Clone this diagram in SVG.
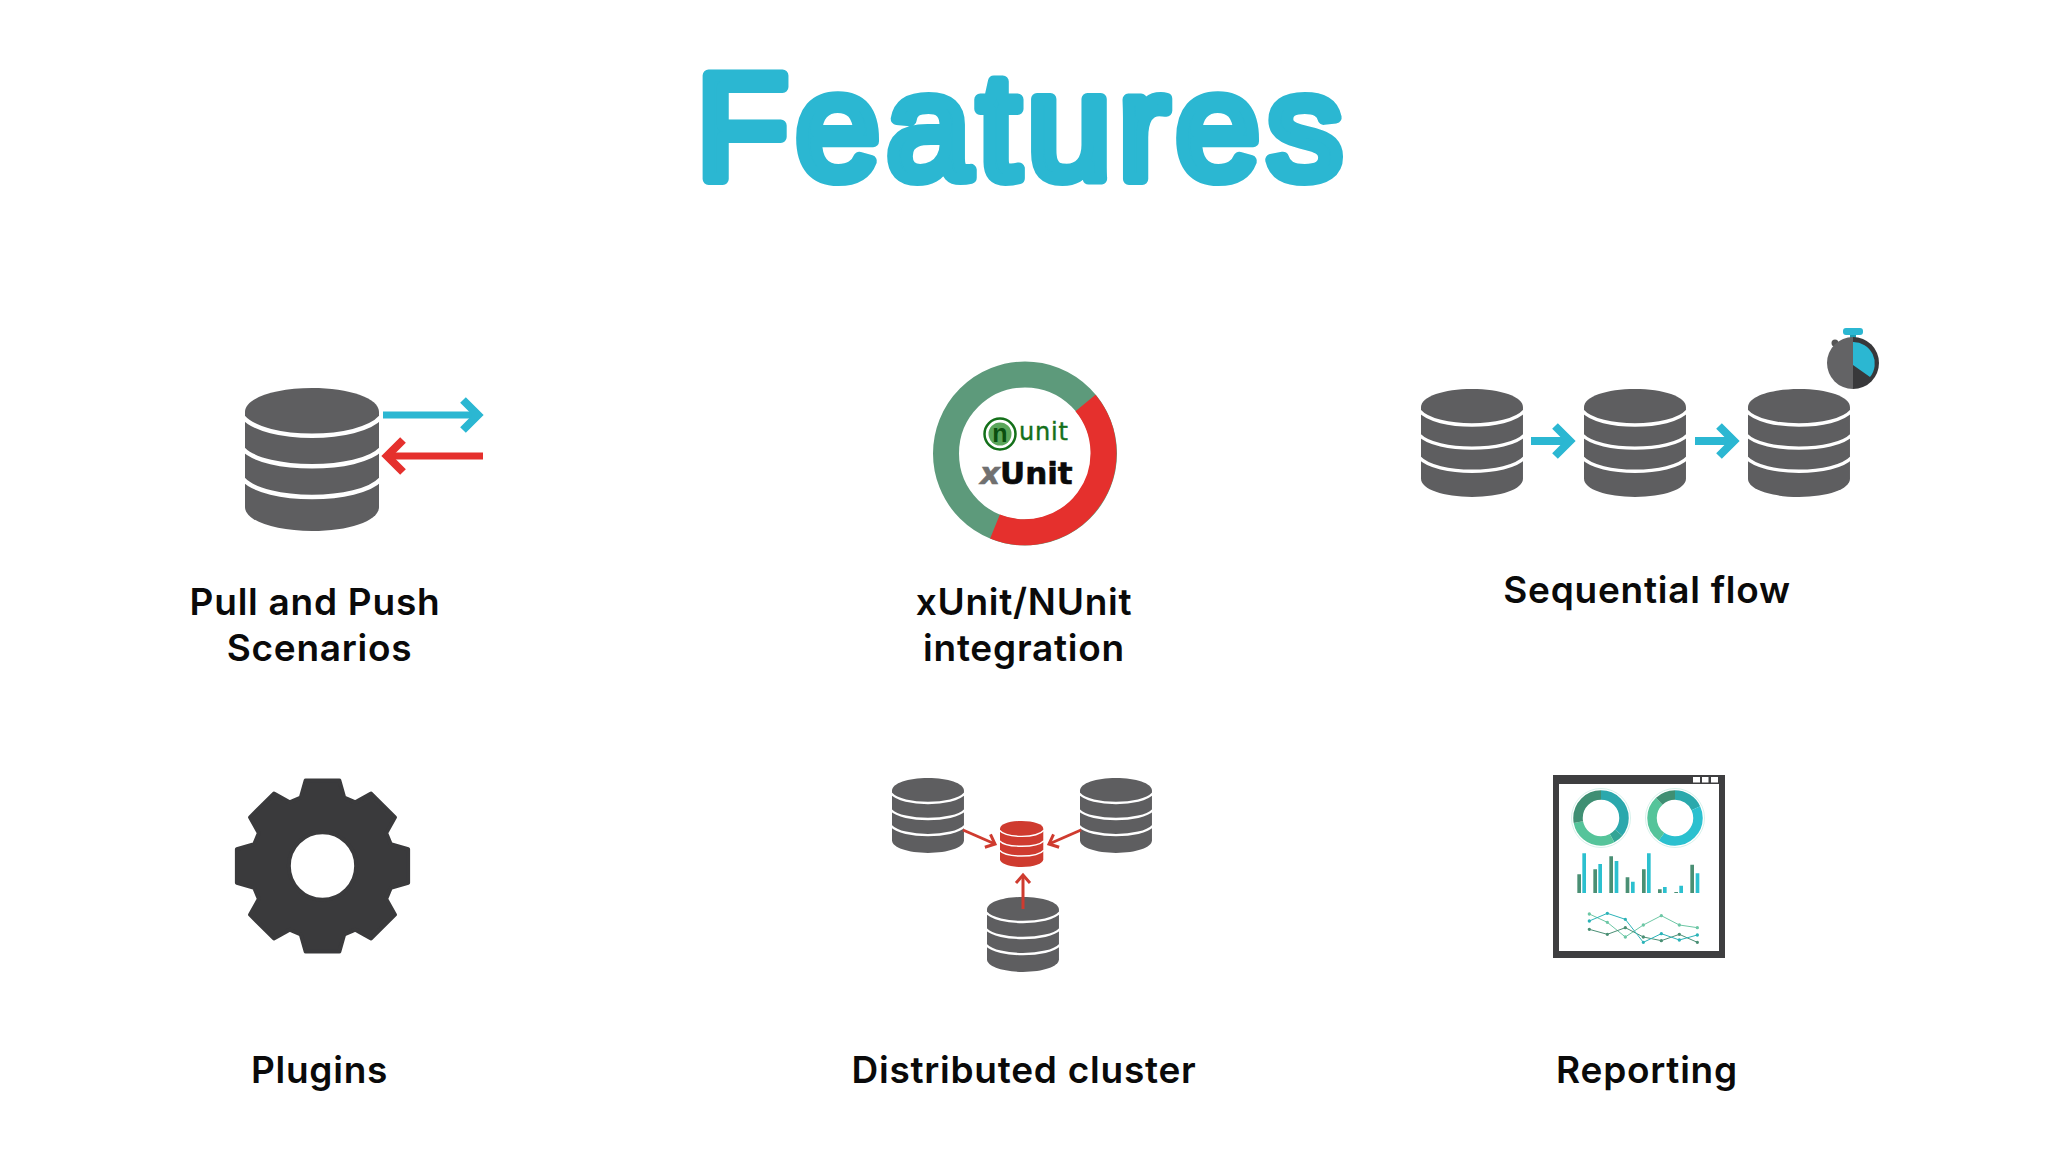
<svg xmlns="http://www.w3.org/2000/svg" width="2048" height="1152" viewBox="0 0 2048 1152">
<style>
.title{font:151px "Liberation Sans",Arial,sans-serif;fill:#2bb7d2;stroke:#2bb7d2;stroke-width:12;stroke-linejoin:round;stroke-linecap:round;letter-spacing:7.2px;text-anchor:middle}
.label{font:600 37px Inter,"Liberation Sans",Arial,sans-serif;fill:#0a0a0a;text-anchor:middle;letter-spacing:.75px}
.db{fill:#5e5e60}
.dbr{fill:#cf3b2f}
.dbline{fill:none;stroke:#fff;stroke-width:4.5}
.blue{fill:none;stroke:#2bb7d2}
.red{fill:none;stroke:#e5302d}
.cred{fill:none;stroke:#cf3b2f;stroke-width:3}
.dk{fill:#4a8f74}.tl{fill:#2cc0cf}
.ln{fill:none;stroke-width:3}
</style>
<defs>
<g id="cyl">
<path d="M0 24C0 10 30 0 67 0S134 10 134 24V119C134 133 104 143 67 143S0 133 0 119Z"/>
<path class="dbline" d="M-2 29C20 54 114 54 136 29M-2 61C20 84 114 84 136 61M-2 91C20 115 114 115 136 91"/>
</g>
<marker id="hb" markerUnits="userSpaceOnUse" markerWidth="40" markerHeight="40" refX="20" refY="20" orient="auto" overflow="visible"><path d="M5 5L20 20L5 35" fill="none" stroke="#2bb7d2" stroke-width="8"/></marker>
<marker id="hr" markerUnits="userSpaceOnUse" markerWidth="40" markerHeight="40" refX="20" refY="20" orient="auto" overflow="visible"><path d="M4 4L20 20L4 36" fill="none" stroke="#e5302d" stroke-width="8"/></marker>
<marker id="hc" markerUnits="userSpaceOnUse" markerWidth="20" markerHeight="20" refX="10" refY="10" orient="auto" overflow="visible"><path d="M2 3L10 10L2 17" fill="none" stroke="#cf3b2f" stroke-width="3"/></marker>
</defs>
<rect width="2048" height="1152" fill="#fff"/>
<text class="title" x="1023" y="179">Features</text>

<g id="pull-push">
<use href="#cyl" class="db" transform="translate(245 388)"/>
<text class="label" x="315" y="615">Pull and Push</text>
<text class="label" x="319.5" y="661">Scenarios</text>
</g>

<g id="xunit-nunit">
<circle cx="1025" cy="453.5" r="79" fill="none" stroke="#5d9a7b" stroke-width="26"/>
<path d="M1085.5 403A79 79 0 0 1 995 526.500" fill="none" stroke="#e5302d" stroke-width="26"/>
<circle cx="1000" cy="434" r="15.500" fill="#fff" stroke="#14701a" stroke-width="2.500"/>
<circle cx="1000" cy="434" r="11.500" fill="#5aa65a"/>
<text x="1000" y="442" font-family="'Liberation Sans',sans-serif" font-weight="bold" font-size="25" fill="#0a4f0f" text-anchor="middle">n</text>
<text x="1019" y="440" font-family="'DejaVu Sans',sans-serif" font-size="24" fill="#14701a" stroke="#14701a" stroke-width=".4" letter-spacing=".8">unit</text>
<text x="980" y="484" font-family="'DejaVu Sans',sans-serif" font-weight="bold" font-size="31" fill="#0a0a0a" stroke="#0a0a0a" stroke-width=".6"><tspan fill="#707070" stroke="#707070" font-style="italic">x</tspan>Unit</text>
<text class="label" x="1024" y="615">xUnit/NUnit</text>
<text class="label" x="1024" y="661">integration</text>
</g>

<g id="sequential-flow">
<use href="#cyl" class="db" transform="translate(1421 389) scale(.761 .755)"/>
<use href="#cyl" class="db" transform="translate(1584 389) scale(.761 .755)"/>
<use href="#cyl" class="db" transform="translate(1748 389) scale(.761 .755)"/>
<g id="stopwatch">
<rect x="1843" y="328" width="20" height="7" rx="3" fill="#2bb7d2"/>
<rect x="1850" y="335" width="6" height="4" fill="#1f9cb0"/>
<circle cx="1835" cy="343" r="3.500" fill="#555"/>
<path d="M1853 337A26 26 0 0 0 1853 389Z" fill="#636365"/>
<path d="M1853 337A26 26 0 0 1 1853 389Z" fill="#38383a"/>
<path d="M1853 342A21.500 21.500 0 0 1 1870 377L1853 365Z" fill="#2bb7d2"/>
</g>
<text class="label" x="1647" y="603">Sequential flow</text>
</g>

<g id="plugins">
<path fill="#3a3a3c" stroke="#3a3a3c" stroke-width="4" stroke-linejoin="round" fill-rule="evenodd" transform="translate(322.500 866) scale(.99)" d="M-22-69L-17-86.500H17L22-69L33.200-64.300L49.100-73.200L73.200-49.100L64.300-33.200L69-22L86.500-17V17L69 22L64.300 33.200L73.200 49.100L49.100 73.200L33.200 64.300L22 69L17 86.500H-17L-22 69L-33.200 64.300L-49.100 73.200L-73.200 49.100L-64.300 33.200L-69 22L-86.500 17V-17L-69-22L-64.300-33.200L-73.200-49.100L-49.100-73.200L-33.200-64.300ZM-34 0A34 34 0 0 0 34 0A34 34 0 0 0 -34 0Z"/>
<text class="label" x="319.500" y="1083">Plugins</text>
</g>

<g id="distributed-cluster">
<use href="#cyl" class="db" transform="translate(892 778) scale(.537 .524)"/>
<use href="#cyl" class="db" transform="translate(1080 778) scale(.537 .524)"/>
<use href="#cyl" class="db" transform="translate(987 897) scale(.537 .524)"/>
<use href="#cyl" class="dbr" transform="translate(1000 821) scale(.323 .322)"/>
<text class="label" x="1024" y="1083">Distributed cluster</text>
</g>

<g id="reporting">
<path fill="#3e3e40" fill-rule="evenodd" d="M1553 775H1725V958H1553ZM1559 784V951H1719V784Z"/>
<rect x="1693" y="777" width="7" height="5.500" fill="#fff"/>
<rect x="1702" y="777" width="6.500" height="5.500" fill="#fff"/>
<rect x="1711" y="777" width="7" height="5.500" fill="#fff"/>
<g fill="none" stroke-width="9.500">
<circle cx="1601" cy="818" r="29.500" stroke="#cdeee6" stroke-width=".8"/>
<circle cx="1675" cy="818" r="29.500" stroke="#cdeee6" stroke-width=".8"/>
<g transform="rotate(-90 1601 818)">
<circle cx="1601" cy="818" r="23" pathLength="100" stroke="#2ba8ad" stroke-dasharray="36 64"/>
<circle cx="1601" cy="818" r="23" pathLength="100" stroke="#34a596" stroke-dasharray="6 94" stroke-dashoffset="-36"/>
<circle cx="1601" cy="818" r="23" pathLength="100" stroke="#55c49a" stroke-dasharray="30 70" stroke-dashoffset="-42"/>
<circle cx="1601" cy="818" r="23" pathLength="100" stroke="#3f8f73" stroke-dasharray="28 72" stroke-dashoffset="-72"/>
</g>
<g transform="rotate(-90 1675 818)">
<circle cx="1675" cy="818" r="23" pathLength="100" stroke="#2aa9ac" stroke-dasharray="18 82"/>
<circle cx="1675" cy="818" r="23" pathLength="100" stroke="#2bc0cf" stroke-dasharray="42 58" stroke-dashoffset="-18"/>
<circle cx="1675" cy="818" r="23" pathLength="100" stroke="#55c49a" stroke-dasharray="28 72" stroke-dashoffset="-60"/>
<circle cx="1675" cy="818" r="23" pathLength="100" stroke="#3f8f73" stroke-dasharray="12 88" stroke-dashoffset="-88"/>
</g>
</g>
<g transform="translate(1540 765) scale(.33333)">
<path class="dk" d="M112 328h11v56h-11zM160 313h11v71h-11zM208 274h11v110h-11zM257 337h11v47h-11zM306 313h11v71h-11zM354 373h11v11h-11zM403 381h11v3h-11zM451 299h11v85h-11z"/>
<path class="tl" d="M127 265h11v119h-11zM175 297h11v87h-11zM224 288h11v96h-11zM273 350h11v34h-11zM321 265h11v119h-11zM369 366h11v18h-11zM418 362h11v22h-11zM467 325h11v59h-11z"/>
<polyline class="ln" stroke="#6cc7a5" points="148,447 202,472 256,516 310,480 364,452 418,480 472,488"/>
<polyline class="ln" stroke="#4a8f74" points="148,493 202,508 256,488 310,516 364,527 418,508 472,532"/>
<polyline class="ln" stroke="#2bb3b8" points="148,468 202,445 256,463 310,532 364,506 418,525 472,510"/>
<path fill="#6cc7a5" d="M143 447a5 5 0 1 0 10 0a5 5 0 1 0-10 0M197 472a5 5 0 1 0 10 0a5 5 0 1 0-10 0M251 516a5 5 0 1 0 10 0a5 5 0 1 0-10 0M305 480a5 5 0 1 0 10 0a5 5 0 1 0-10 0M359 452a5 5 0 1 0 10 0a5 5 0 1 0-10 0M413 480a5 5 0 1 0 10 0a5 5 0 1 0-10 0M467 488a5 5 0 1 0 10 0a5 5 0 1 0-10 0"/>
<path fill="#4a8f74" d="M143 493a5 5 0 1 0 10 0a5 5 0 1 0-10 0M197 508a5 5 0 1 0 10 0a5 5 0 1 0-10 0M251 488a5 5 0 1 0 10 0a5 5 0 1 0-10 0M305 516a5 5 0 1 0 10 0a5 5 0 1 0-10 0M359 527a5 5 0 1 0 10 0a5 5 0 1 0-10 0M413 508a5 5 0 1 0 10 0a5 5 0 1 0-10 0M467 532a5 5 0 1 0 10 0a5 5 0 1 0-10 0"/>
<path fill="#2bb3b8" d="M143 468a5 5 0 1 0 10 0a5 5 0 1 0-10 0M197 445a5 5 0 1 0 10 0a5 5 0 1 0-10 0M251 463a5 5 0 1 0 10 0a5 5 0 1 0-10 0M305 532a5 5 0 1 0 10 0a5 5 0 1 0-10 0M359 506a5 5 0 1 0 10 0a5 5 0 1 0-10 0M413 525a5 5 0 1 0 10 0a5 5 0 1 0-10 0M467 510a5 5 0 1 0 10 0a5 5 0 1 0-10 0"/>
</g>
<text class="label" x="1647" y="1083">Reporting</text>
</g>

<g id="connectors">
<path class="blue" stroke-width="7" d="M383 415H478" marker-end="url(#hb)"/>
<path class="red" stroke-width="7" d="M483 456H387" marker-end="url(#hr)"/>
<path class="blue" stroke-width="8" d="M1531 441H1570" marker-end="url(#hb)"/>
<path class="blue" stroke-width="8" d="M1695 441H1734" marker-end="url(#hb)"/>
<path class="cred" d="M963 830L995 844" marker-end="url(#hc)"/>
<path class="cred" d="M1081 830L1049 844" marker-end="url(#hc)"/>
<path class="cred" d="M1023 909V875" marker-end="url(#hc)"/>
</g>
</svg>
